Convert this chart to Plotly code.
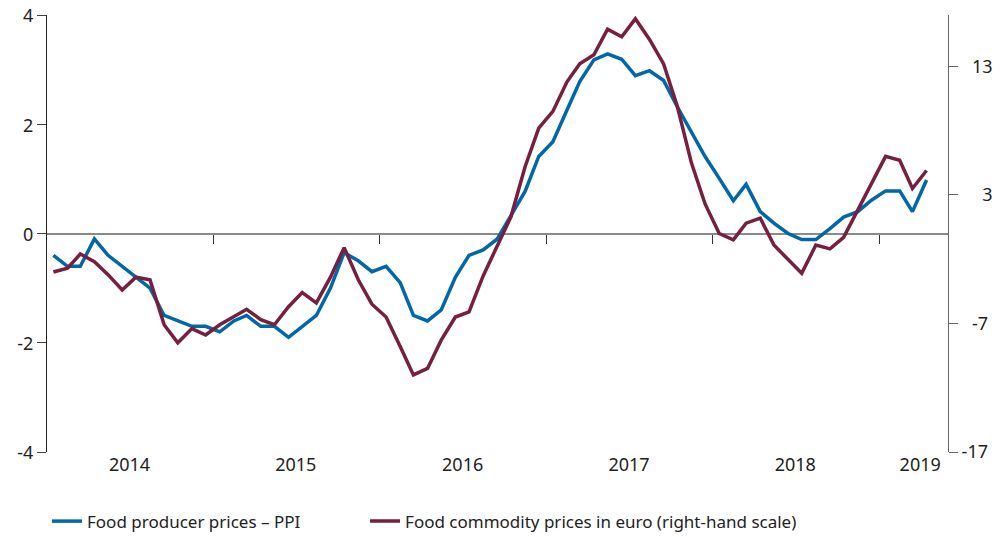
import pandas as pd
import plotly.graph_objects as go

# Monthly data, Jan 2014 - Apr 2019
months = pd.date_range("2014-01-01", "2019-04-01", freq="MS") + pd.Timedelta(days=14)

ppi = [
    -0.4, -0.6, -0.6, -0.1, -0.4, -0.6, -0.8, -1.0, -1.5, -1.6, -1.7, -1.7,   # 2014
    -1.8, -1.6, -1.5, -1.7, -1.7, -1.9, -1.7, -1.5, -1.0, -0.35, -0.5, -0.7,  # 2015
    -0.6, -0.9, -1.5, -1.6, -1.4, -0.8, -0.4, -0.3, -0.1, 0.34, 0.77, 1.41,   # 2016
    1.68, 2.26, 2.78, 3.18, 3.29, 3.19, 2.89, 2.98, 2.8, 2.32, 1.87, 1.41,    # 2017
    1.01, 0.6, 0.9, 0.4, 0.19, 0.0, -0.11, -0.11, 0.09, 0.3, 0.4, 0.61,       # 2018
    0.78, 0.78, 0.4, 0.98,                                                   # 2019
]

commodity = [
    -3.0, -2.7, -1.6, -2.2, -3.2, -4.4, -3.4, -3.6, -7.1, -8.5, -7.4, -7.9,   # 2014
    -7.1, -6.5, -5.9, -6.7, -7.1, -5.7, -4.6, -5.4, -3.4, -1.1, -3.6, -5.5,   # 2015
    -6.5, -8.8, -11.0, -10.5, -8.3, -6.5, -6.1, -3.3, -1.0, 1.3, 5.2, 8.2,    # 2016
    9.5, 11.8, 13.2, 13.9, 15.9, 15.3, 16.7, 15.1, 13.2, 9.9, 5.5, 2.3,       # 2017
    0.0, -0.5, 0.8, 1.2, -0.9, -2.0, -3.1, -0.9, -1.2, -0.3, 1.8, 3.9,        # 2018
    6.0, 5.7, 3.5, 4.9,                                                      # 2019
]

year_labels = ["2014", "2015", "2016", "2017", "2018", "2019"]
year_label_pos = ["2014-07-01", "2015-07-01", "2016-07-01", "2017-07-01", "2018-07-01", "2019-04-01"]
year_ticks = ["2015-01-01", "2016-01-01", "2017-01-01", "2018-01-01", "2019-01-01"]

left_ticks = [-4, -2, 0, 2, 4]
left_ticktext = ["-4", "-2", "0", "2", "4"]
right_ticks = [-17, -7, 3, 13]
right_ticktext = ["-17", "\u2007-7", "\u2007\u20073", "\u200713"]

BLUE = "#0068a8"
MAROON = "#761f40"
FONT = "Noto Sans"
TXT = "#222222"
TICKFONT = dict(family=FONT, size=18, color=TXT)

fig = go.Figure()
fig.add_trace(go.Scatter(
    x=months, y=ppi, mode="lines", name="Food producer prices \u2013 PPI",
    line=dict(color=BLUE, width=3.5), yaxis="y", xaxis="x", legend="legend",
))
fig.add_trace(go.Scatter(
    x=months, y=commodity, mode="lines", name="Food commodity prices in euro (right-hand scale)",
    line=dict(color=MAROON, width=3.5), yaxis="y2", xaxis="x", legend="legend2",
))
# invisible helper trace so the tick-only axis at zero is drawn
fig.add_trace(go.Scatter(x=[], y=[], xaxis="x2", yaxis="y", showlegend=False, hoverinfo="skip"))

xr = ["2014-01-01", "2019-06-01"]
legend_common = dict(orientation="h", xanchor="left", yanchor="top", y=-0.118,
                     font=dict(family=FONT, size=17, color=TXT),
                     bgcolor="rgba(0,0,0,0)")
fig.update_layout(
    width=1003, height=537,
    margin=dict(l=47, r=55, t=15, b=85, autoexpand=False),
    paper_bgcolor="white", plot_bgcolor="white",
    font=dict(family=FONT, size=17, color=TXT),
    showlegend=True,
    legend=dict(x=0.0, **legend_common),
    legend2=dict(x=0.353, **legend_common),
    xaxis=dict(
        range=xr, type="date", showgrid=False, zeroline=False, showline=False,
        tickmode="array", tickvals=year_label_pos, ticktext=year_labels,
        ticks="", tickfont=TICKFONT, automargin=False,
    ),
    xaxis2=dict(
        range=xr, type="date", overlaying="x", anchor="free", position=0.5,
        showgrid=False, zeroline=False, showline=False,
        tickmode="array", tickvals=year_ticks, showticklabels=False,
        ticks="outside", ticklen=9, tickwidth=1, tickcolor="#333333", automargin=False,
    ),
    yaxis=dict(
        range=[-4, 4], tickmode="array", tickvals=left_ticks, ticktext=left_ticktext,
        automargin=False, ticklabelshift=1,
        showgrid=False, zeroline=True, zerolinecolor="#8a8a8a", zerolinewidth=2,
        showline=True, linecolor="#222222", linewidth=1,
        ticks="outside", ticklen=9, tickcolor="#444444",
        tickfont=TICKFONT,
    ),
    yaxis2=dict(
        range=[-17, 17], overlaying="y", side="right", anchor="x",
        tickmode="array", tickvals=right_ticks, ticktext=right_ticktext,
        automargin=False,
        showgrid=False, zeroline=False,
        showline=True, linecolor="#666666", linewidth=1,
        ticks="outside", ticklen=9, tickcolor="#666666",
        tickfont=TICKFONT,
    ),
)

fig.write_html("out.html",
               config={"displayModeBar": False},
               post_script="document.body.style.margin='0';document.body.style.overflow='hidden';")
